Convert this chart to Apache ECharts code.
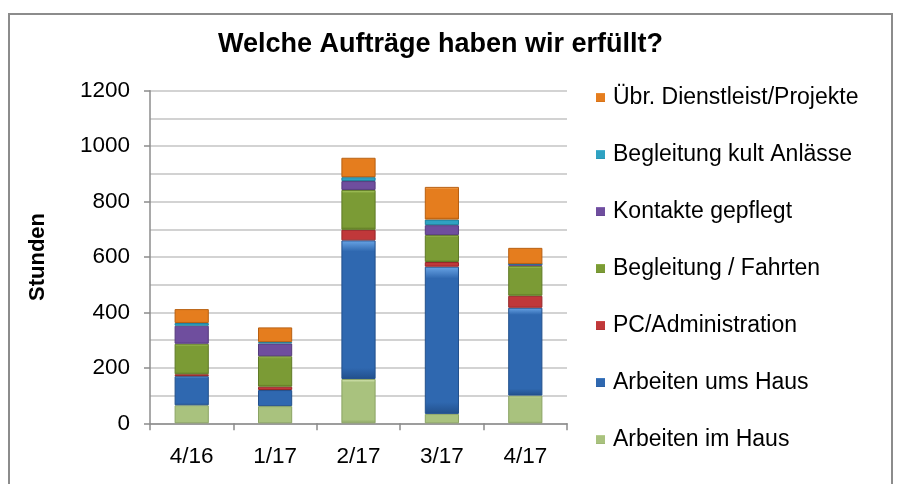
<!DOCTYPE html>
<html>
<head>
<meta charset="utf-8">
<script src="https://cdn.jsdelivr.net/npm/echarts@6/dist/echarts.min.js"></script>
<style>
  html, body { margin: 0; padding: 0; background: #fff; }
  #chart { width: 897px; height: 484px; }
</style>
</head>
<body>
<div id="chart"></div>
<script>
// Monate
var categories = ['4/16', '1/17', '2/17', '3/17', '4/17']

// Stunden pro Auftragsart (von unten nach oben gestapelt)
var imHaus = [65, 62, 160, 34, 100]
var umsHaus = [105, 58, 500, 531, 317]
var pcAdmin = [7, 12, 38, 17, 43]
var fahrten = [110, 110, 144, 97, 108]
var kontakte = [65, 46, 32, 36, 7]
var kultAnlaesse = [10, 5, 14, 20, 0]
var uebrige = [50, 53, 70, 118, 58]

var seriesNames = [
  'Arbeiten im Haus',
  'Arbeiten ums Haus',
  'PC/Administration',
  'Begleitung / Fahrten',
  'Kontakte gepflegt',
  'Begleitung kult Anlässe',
  'Übr. Dienstleist/Projekte'
]
var seriesData = [imHaus, umsHaus, pcAdmin, fahrten, kontakte, kultAnlaesse, uebrige]
// [hell, basis, dunkel]
var colors = [
  ['#dbeab8', '#a9c27e', '#8aa363'],
  ['#6aa5e6', '#2f68b0', '#22508c'],
  ['#ee6a6a', '#c0383a', '#962628'],
  ['#b4d46a', '#7b9b35', '#5f7a25'],
  ['#b496dc', '#6f4e9e', '#553a7c'],
  ['#7fd3ea', '#2fa2c2', '#1f7f9a'],
  ['#f6b066', '#e57d1e', '#b85f10']
]

var myChart = echarts.init(document.getElementById('chart'))

var option = {
  backgroundColor: '#ffffff',
  animation: false,
  textStyle: { fontFamily: 'Liberation Sans, Arial, sans-serif', color: '#000' },
  graphic: [
    {
      type: 'rect',
      shape: { x: 9, y: 14, width: 883, height: 480 },
      style: { fill: 'none', stroke: '#8c8c8c', lineWidth: 2 },
      silent: true
    }
  ],
  title: {
    text: 'Welche Aufträge haben wir erfüllt?',
    left: 218,
    top: 31,
    padding: 0,
    textStyle: { fontSize: 27, fontWeight: 'bold', color: '#000', fontFamily: 'Liberation Sans, Arial, sans-serif' }
  },
  legend: {
    orient: 'vertical',
    left: 596,
    top: 86,
    padding: 0,
    itemWidth: 9,
    itemHeight: 9,
    itemGap: 34,
    icon: 'rect',
    data: seriesNames.slice().reverse(),
    itemStyle: { borderWidth: 0 },
    textStyle: { fontSize: 23, lineHeight: 23, color: '#000', padding: [0, 0, 0, 3] }
  },
  grid: { left: 150, right: 330, top: 90.7, bottom: 60.7 },
  xAxis: {
    type: 'category',
    data: categories,
    boundaryGap: true,
    axisLine: { lineStyle: { color: '#8c8c8c', width: 1.5 } },
    axisTick: { show: true, alignWithLabel: false, length: 7, lineStyle: { color: '#8c8c8c', width: 1.5 } },
    axisLabel: { fontSize: 22.5, color: '#000', margin: 22 }
  },
  yAxis: {
    type: 'value',
    min: 0,
    max: 1200,
    interval: 200,
    name: 'Stunden',
    nameLocation: 'middle',
    nameGap: 101,
    nameTextStyle: { fontSize: 22, fontWeight: 'bold', color: '#000' },
    axisLine: { show: true, lineStyle: { color: '#8c8c8c', width: 1.5 } },
    axisTick: { show: true, length: 6, lineStyle: { color: '#8c8c8c', width: 1.5 } },
    axisLabel: {
      fontSize: 22.5,
      color: '#000',
      margin: 20,
      formatter: function (v) { return String(v) }
    },
    splitLine: { lineStyle: { color: '#c4c4c4', width: 1.5 } },
    minorTick: { show: false, splitNumber: 2 },
    minorSplitLine: { show: true, lineStyle: { color: '#c4c4c4', width: 1.5 } }
  },
  series: seriesNames.map(function (name, i) {
    var c = colors[i]
    return {
      name: name,
      type: 'bar',
      stack: 'total',
      barWidth: '41%',
      data: seriesData[i],
      itemStyle: {
        color: new echarts.graphic.LinearGradient(0, 0, 0, 1, [
          { offset: 0, color: c[0] },
          { offset: 0.08, color: c[1] },
          { offset: 0.92, color: c[1] },
          { offset: 1, color: c[2] }
        ]),
        borderColor: c[2],
        borderWidth: 1
      }
    }
  })
}

option && myChart.setOption(option)
</script>
</body>
</html>
